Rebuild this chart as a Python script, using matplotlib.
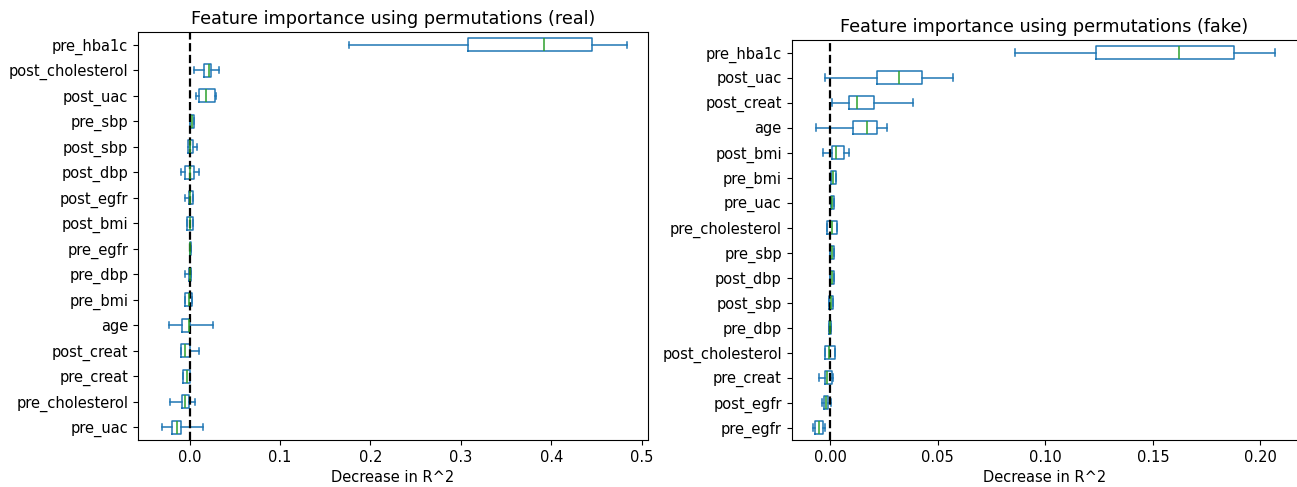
import matplotlib.pyplot as plt

plt.rcParams['font.size'] = 10.5

# Estatisticas do boxplot (min, q1, mediana, q3, max) da importancia por permutacao
# Grafico "real" - ordem de cima para baixo
feat_real = ['pre_hba1c', 'post_cholesterol', 'post_uac', 'pre_sbp', 'post_sbp', 'post_dbp',
             'post_egfr', 'post_bmi', 'pre_egfr', 'pre_dbp', 'pre_bmi', 'age', 'post_creat',
             'pre_creat', 'pre_cholesterol', 'pre_uac']
lo_real = [0.176, 0.005, 0.007, 0.001, 0.000, -0.010, -0.005, -0.003, 0.000, -0.005, -0.005, -0.023, -0.010, -0.007, -0.022, -0.030]
q1_real = [0.308, 0.016, 0.010, 0.001, -0.002, -0.005, -0.001, -0.003, 0.000, -0.001, -0.005, -0.008, -0.009, -0.007, -0.008, -0.019]
med_real = [0.392, 0.021, 0.018, 0.003, 0.001, 0.000, 0.001, 0.000, 0.001, 0.000, -0.001, -0.001, -0.005, -0.003, -0.005, -0.014]
q3_real = [0.445, 0.024, 0.028, 0.005, 0.004, 0.005, 0.004, 0.004, 0.002, 0.002, 0.003, 0.001, 0.001, 0.001, -0.001, -0.009]
hi_real = [0.484, 0.033, 0.029, 0.005, 0.008, 0.011, 0.004, 0.004, 0.002, 0.002, 0.003, 0.026, 0.011, 0.001, 0.006, 0.015]

# Grafico "fake" - ordem de cima para baixo
feat_fake = ['pre_hba1c', 'post_uac', 'post_creat', 'age', 'post_bmi', 'pre_bmi', 'pre_uac',
             'pre_cholesterol', 'pre_sbp', 'post_dbp', 'post_sbp', 'pre_dbp', 'post_cholesterol',
             'pre_creat', 'post_egfr', 'pre_egfr']
lo_fake = [0.086, -0.0022, 0.001, -0.0068, -0.0034, 0.0003, 0.0003, -0.0014, 0.0000, 0.0000, -0.0004, -0.0004, -0.0025, -0.0051, -0.0039, -0.0079]
q1_fake = [0.1235, 0.0217, 0.0085, 0.0104, 0.0006, 0.0003, 0.0003, -0.0014, 0.0000, 0.0000, -0.0004, -0.0004, -0.0025, -0.0022, -0.0030, -0.0070]
med_fake = [0.162, 0.0319, 0.0125, 0.0173, 0.0025, 0.0012, 0.0010, 0.0010, 0.0010, 0.0008, 0.0004, 0.0000, -0.0005, -0.0015, -0.0021, -0.0051]
q3_fake = [0.1877, 0.0428, 0.0204, 0.0217, 0.0065, 0.0025, 0.0017, 0.0030, 0.0019, 0.0017, 0.0011, 0.0005, 0.0022, 0.0008, -0.0009, -0.0033]
hi_fake = [0.2067, 0.057, 0.0386, 0.0263, 0.0085, 0.0025, 0.0017, 0.0030, 0.0019, 0.0017, 0.0011, 0.0005, 0.0022, 0.0015, 0.0005, -0.0025]


def plot_importances(ax, feats, lo, q1, med, q3, hi, titulo):
    n = len(feats)
    stats = []
    for i in range(n):
        stats.append({'label': feats[i], 'whislo': lo[i], 'q1': q1[i], 'med': med[i],
                      'q3': q3[i], 'whishi': hi[i], 'fliers': []})
    # primeira feature fica no topo
    posicoes = list(range(n, 0, -1))
    ax.bxp(stats, positions=posicoes, vert=False, widths=0.5,
           boxprops=dict(color='#1f77b4', linewidth=1.1), whiskerprops=dict(color='#1f77b4', linewidth=1.1),
           capprops=dict(color='#1f77b4', linewidth=1.1), medianprops=dict(color='#2ca02c', linewidth=1.1),
           showfliers=False)
    ax.axvline(x=0, color='k', linestyle='--', linewidth=1.6)
    ax.set_title(titulo, fontsize=12.7)
    ax.set_xlabel('Decrease in R^2')
    ax.set_ylim(0.5, n + 0.5)


fig = plt.figure(figsize=(12.97, 4.87), dpi=100)
ax1 = fig.add_axes([138 / 1297, 47 / 487, 510 / 1297, 408 / 487])
ax2 = fig.add_axes([791.5 / 1297, 47 / 487, 506 / 1297, 400 / 487])

plot_importances(ax1, feat_real, lo_real, q1_real, med_real, q3_real, hi_real,
                 'Feature importance using permutations (real)')
ax1.set_xticks([0.0, 0.1, 0.2, 0.3, 0.4, 0.5])
ax1.set_xlim(-0.057, 0.507)

plot_importances(ax2, feat_fake, lo_fake, q1_fake, med_fake, q3_fake, hi_fake,
                 'Feature importance using permutations (fake)')
ax2.set_xticks([0.0, 0.05, 0.10, 0.15, 0.20])
ax2.set_xticklabels(['0.00', '0.05', '0.10', '0.15', '0.20'])
ax2.set_xlim(-0.018, 0.2172)

plt.savefig('out.png', dpi=100)
